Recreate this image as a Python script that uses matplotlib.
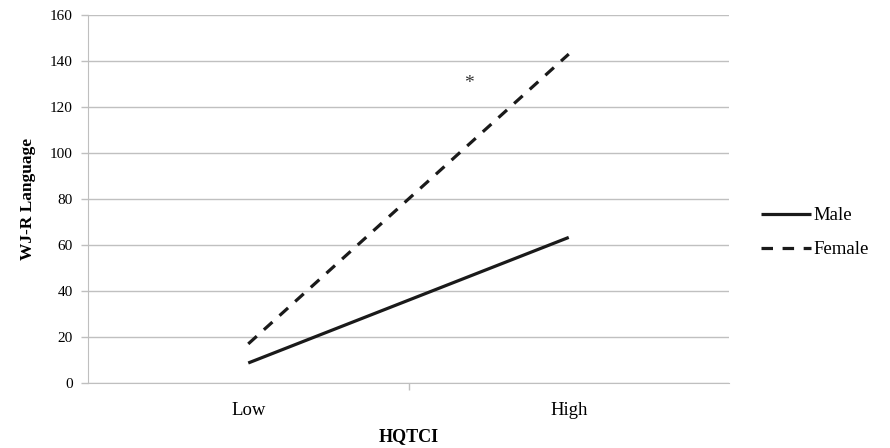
"""Interaccion HQTCI x sexo sobre WJ-R Language"""
import matplotlib.pyplot as plt

# Datos
categorias = ['Low', 'High']
male = [8.7, 63.3]
female = [17.0, 143.0]
asterisco_x = 0.69
asterisco_y = 130

plt.rcParams['font.family'] = ['Liberation Serif', 'DejaVu Serif']

fig = plt.figure(figsize=(8.9, 4.48), dpi=100)
ax = fig.add_axes([88 / 890, 1 - 383 / 448, (729 - 88) / 890, (383 - 15) / 448])

x = list(range(len(categorias)))
ax.plot(x, male, color='#1a1a1a', lw=2.3, solid_capstyle='butt', label='Male')
ax.plot(x, female, color='#1a1a1a', lw=2.3, dashes=(3.6, 3.0),
        dash_capstyle='butt', label='Female')
ax.text(asterisco_x, asterisco_y, '*', ha='center', va='center', fontsize=14, color='#333333')

ax.set_xlim(-0.5, 1.5)
ax.set_ylim(0, 160)
ax.set_yticks(range(0, 161, 20))
ax.set_xticks(x)
ax.set_xticklabels(categorias, fontsize=13.5)
ax.set_xticks([0.5], minor=True)
ax.tick_params(axis='x', which='major', length=0, pad=14)
ax.tick_params(axis='x', which='minor', length=5, color='#bfbfbf', width=1)
ax.tick_params(axis='y', length=5, color='#bfbfbf', width=1, labelsize=11, pad=6)

ax.grid(axis='y', color='#c0c0c0', lw=1)
ax.set_axisbelow(True)
for lado in ['top', 'right']:
    ax.spines[lado].set_visible(False)
ax.spines['left'].set_color('#bfbfbf')
ax.spines['bottom'].set_color('#bfbfbf')

ax.set_xlabel('HQTCI', fontsize=13, fontweight='bold', labelpad=6)
ax.set_ylabel('WJ-R Language', fontsize=12.5, fontweight='bold', labelpad=10)

ax.legend(loc='center left', bbox_to_anchor=(1.023, 0.408), frameon=False,
          fontsize=13.5, handlelength=2.7, handletextpad=0.1, labelspacing=0.9)

plt.savefig('out.png', dpi=100)
